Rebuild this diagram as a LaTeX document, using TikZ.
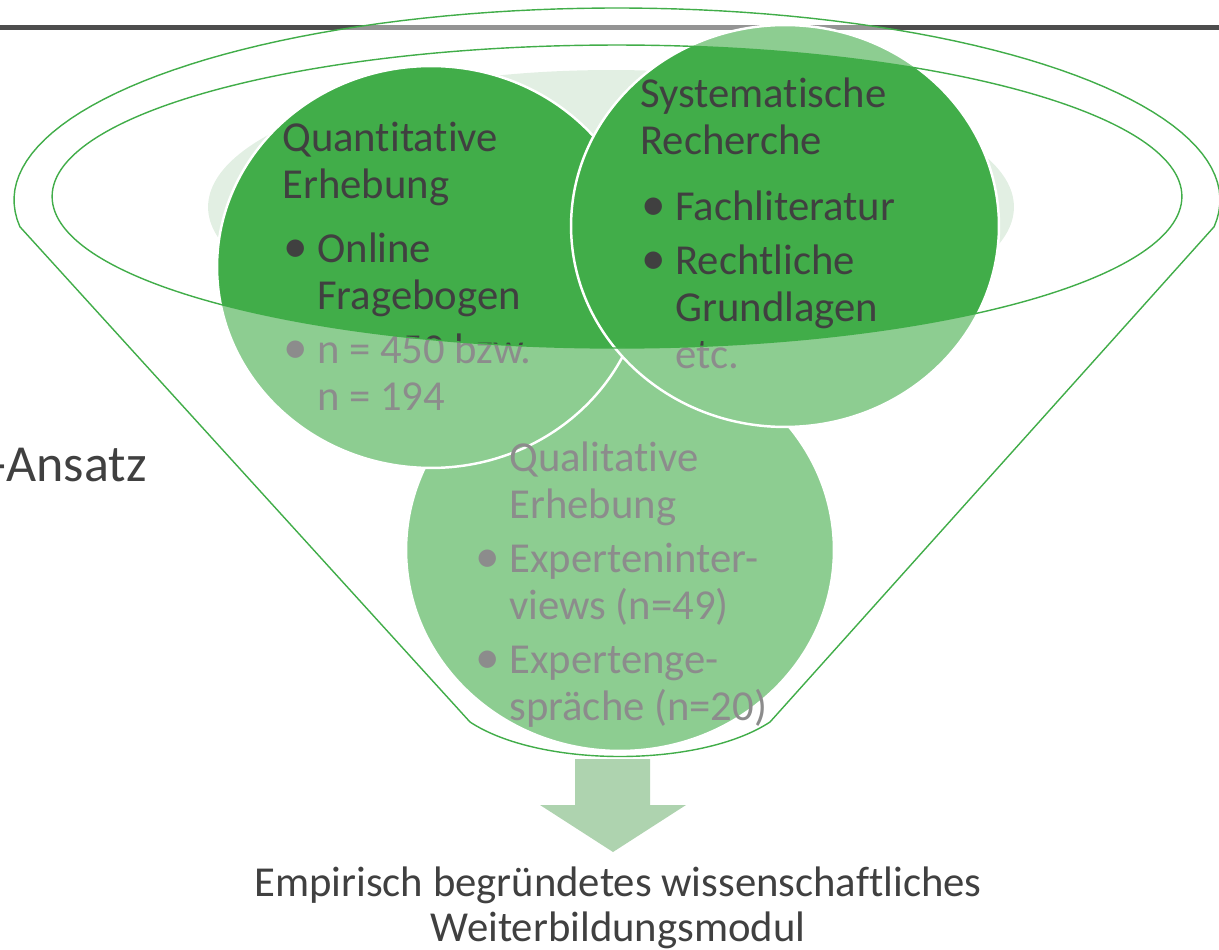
\documentclass[tikz,border=0pt]{standalone}
\usepackage{fontspec}
\setmainfont{Carlito}[Ligatures=NoCommon]
\usepackage{xcolor}
\usetikzlibrary{shapes.geometric, positioning, calc}

\definecolor{funnelgreen}{RGB}{65,173,73}
\definecolor{palegreen}{RGB}{226,239,227}
\definecolor{arrowgreen}{RGB}{174,211,175}
\definecolor{textgray}{RGB}{64,64,64}
\definecolor{rulegray}{RGB}{77,77,77}

% bullet and hanging indent for the bubble texts
\newcommand{\bul}{\makebox[0.7cm][l]{\hspace*{0.02cm}{\fontsize{28pt}{28pt}\selectfont\textbullet}}}
\newcommand{\ind}{\hspace*{0.7cm}}

\begin{document}
\begin{tikzpicture}[
    x=0.02cm, y=-0.02cm,
    bubble/.style={
        ellipse,
        fill=funnelgreen,
        draw=white,
        line width=1.4pt,
        inner sep=0pt,
        minimum width=8.56cm,
        minimum height=8.04cm
    },
    bubbletext/.style={
        anchor=base west, % base = last line
        inner sep=0pt,
        align=left,
        text=textgray,
        font=\fontsize{24.3pt}{26.7pt}\selectfont
    },
    caption/.style={
        inner sep=0pt,
        text=textgray,
        font=\fontsize{24.3pt}{25.6pt}\selectfont
    },
    funnel/.style={
        fill=white,
        fill opacity=0.4,
        draw=funnelgreen,
        line width=0.8pt,
        even odd rule
    }
]
    \useasboundingbox (0,0) rectangle (1219,949);

    % =======================================================
    % Header rule
    % =======================================================
    \coordinate (ruleL) at (0,27.5);
    \coordinate (ruleR) at (1219,27.5);
    \draw[rulegray, line width=0.1cm] (ruleL) -- (ruleR);

    % =======================================================
    % Funnel content
    % =======================================================
    % pale liquid surface
    \fill[palegreen] (611,207) ellipse [x radius=8.06cm, y radius=2.74cm];

    % Bubbles (back to front)
    \node[bubble] (qual) at (620,550) {};
    \node[bubble] (quant) at (431,267) {};
    \node[bubble] (syst) at (785,226) {};

    % Bubble texts
    \node[bubbletext] (quanttext) at (282,410)
        {Quantitative\\Erhebung\\[0.34cm]\bul Online\\\ind Fragebogen\\[0.14cm]\bul n = 450 bzw.\\\ind n = 194};
    \node[bubbletext] (systtext) at (640,368)
        {Systematische\\Recherche\\[0.38cm]\bul Fachliteratur\\[0.14cm]\bul Rechtliche\\\ind Grundlagen\\\ind etc.};
    \node[bubbletext] (qualtext) at (474,720)
        {\ind Qualitative\\\ind Erhebung\\[0.14cm]\bul Experteninter-\\\ind views (n=49)\\[0.14cm]\bul Expertenge-\\\ind spräche (n=20)};

    % =======================================================
    % Funnel body (translucent, open mouth)
    % =======================================================
    \path[funnel]
        plot[domain=172:368, samples=90, variable=\t] ({617+603*cos(\t)}, {200+192*sin(\t)})
        -- (770,722) .. controls (700,768) and (540,768) .. (470,722) -- cycle
        (617,196.5) ellipse [x radius=11.3cm, y radius=3.03cm];

    % =======================================================
    % Output arrow and result
    % =======================================================
    \coordinate (tip) at (613,852);
    \fill[arrowgreen] (575,759) -- (650,759) -- (650,805) -- (686,805)
        -- (tip) -- (540,805) -- (575,805) -- cycle;

    \node[caption, anchor=base, align=center] (result) at (618,941)
        {Empirisch begründetes wissenschaftliches\\Weiterbildungsmodul};

    \node[caption, anchor=base east, font=\fontsize{29.6pt}{32pt}\selectfont] (approach) at (147,481) {-Ansatz};

\end{tikzpicture}
\end{document}
